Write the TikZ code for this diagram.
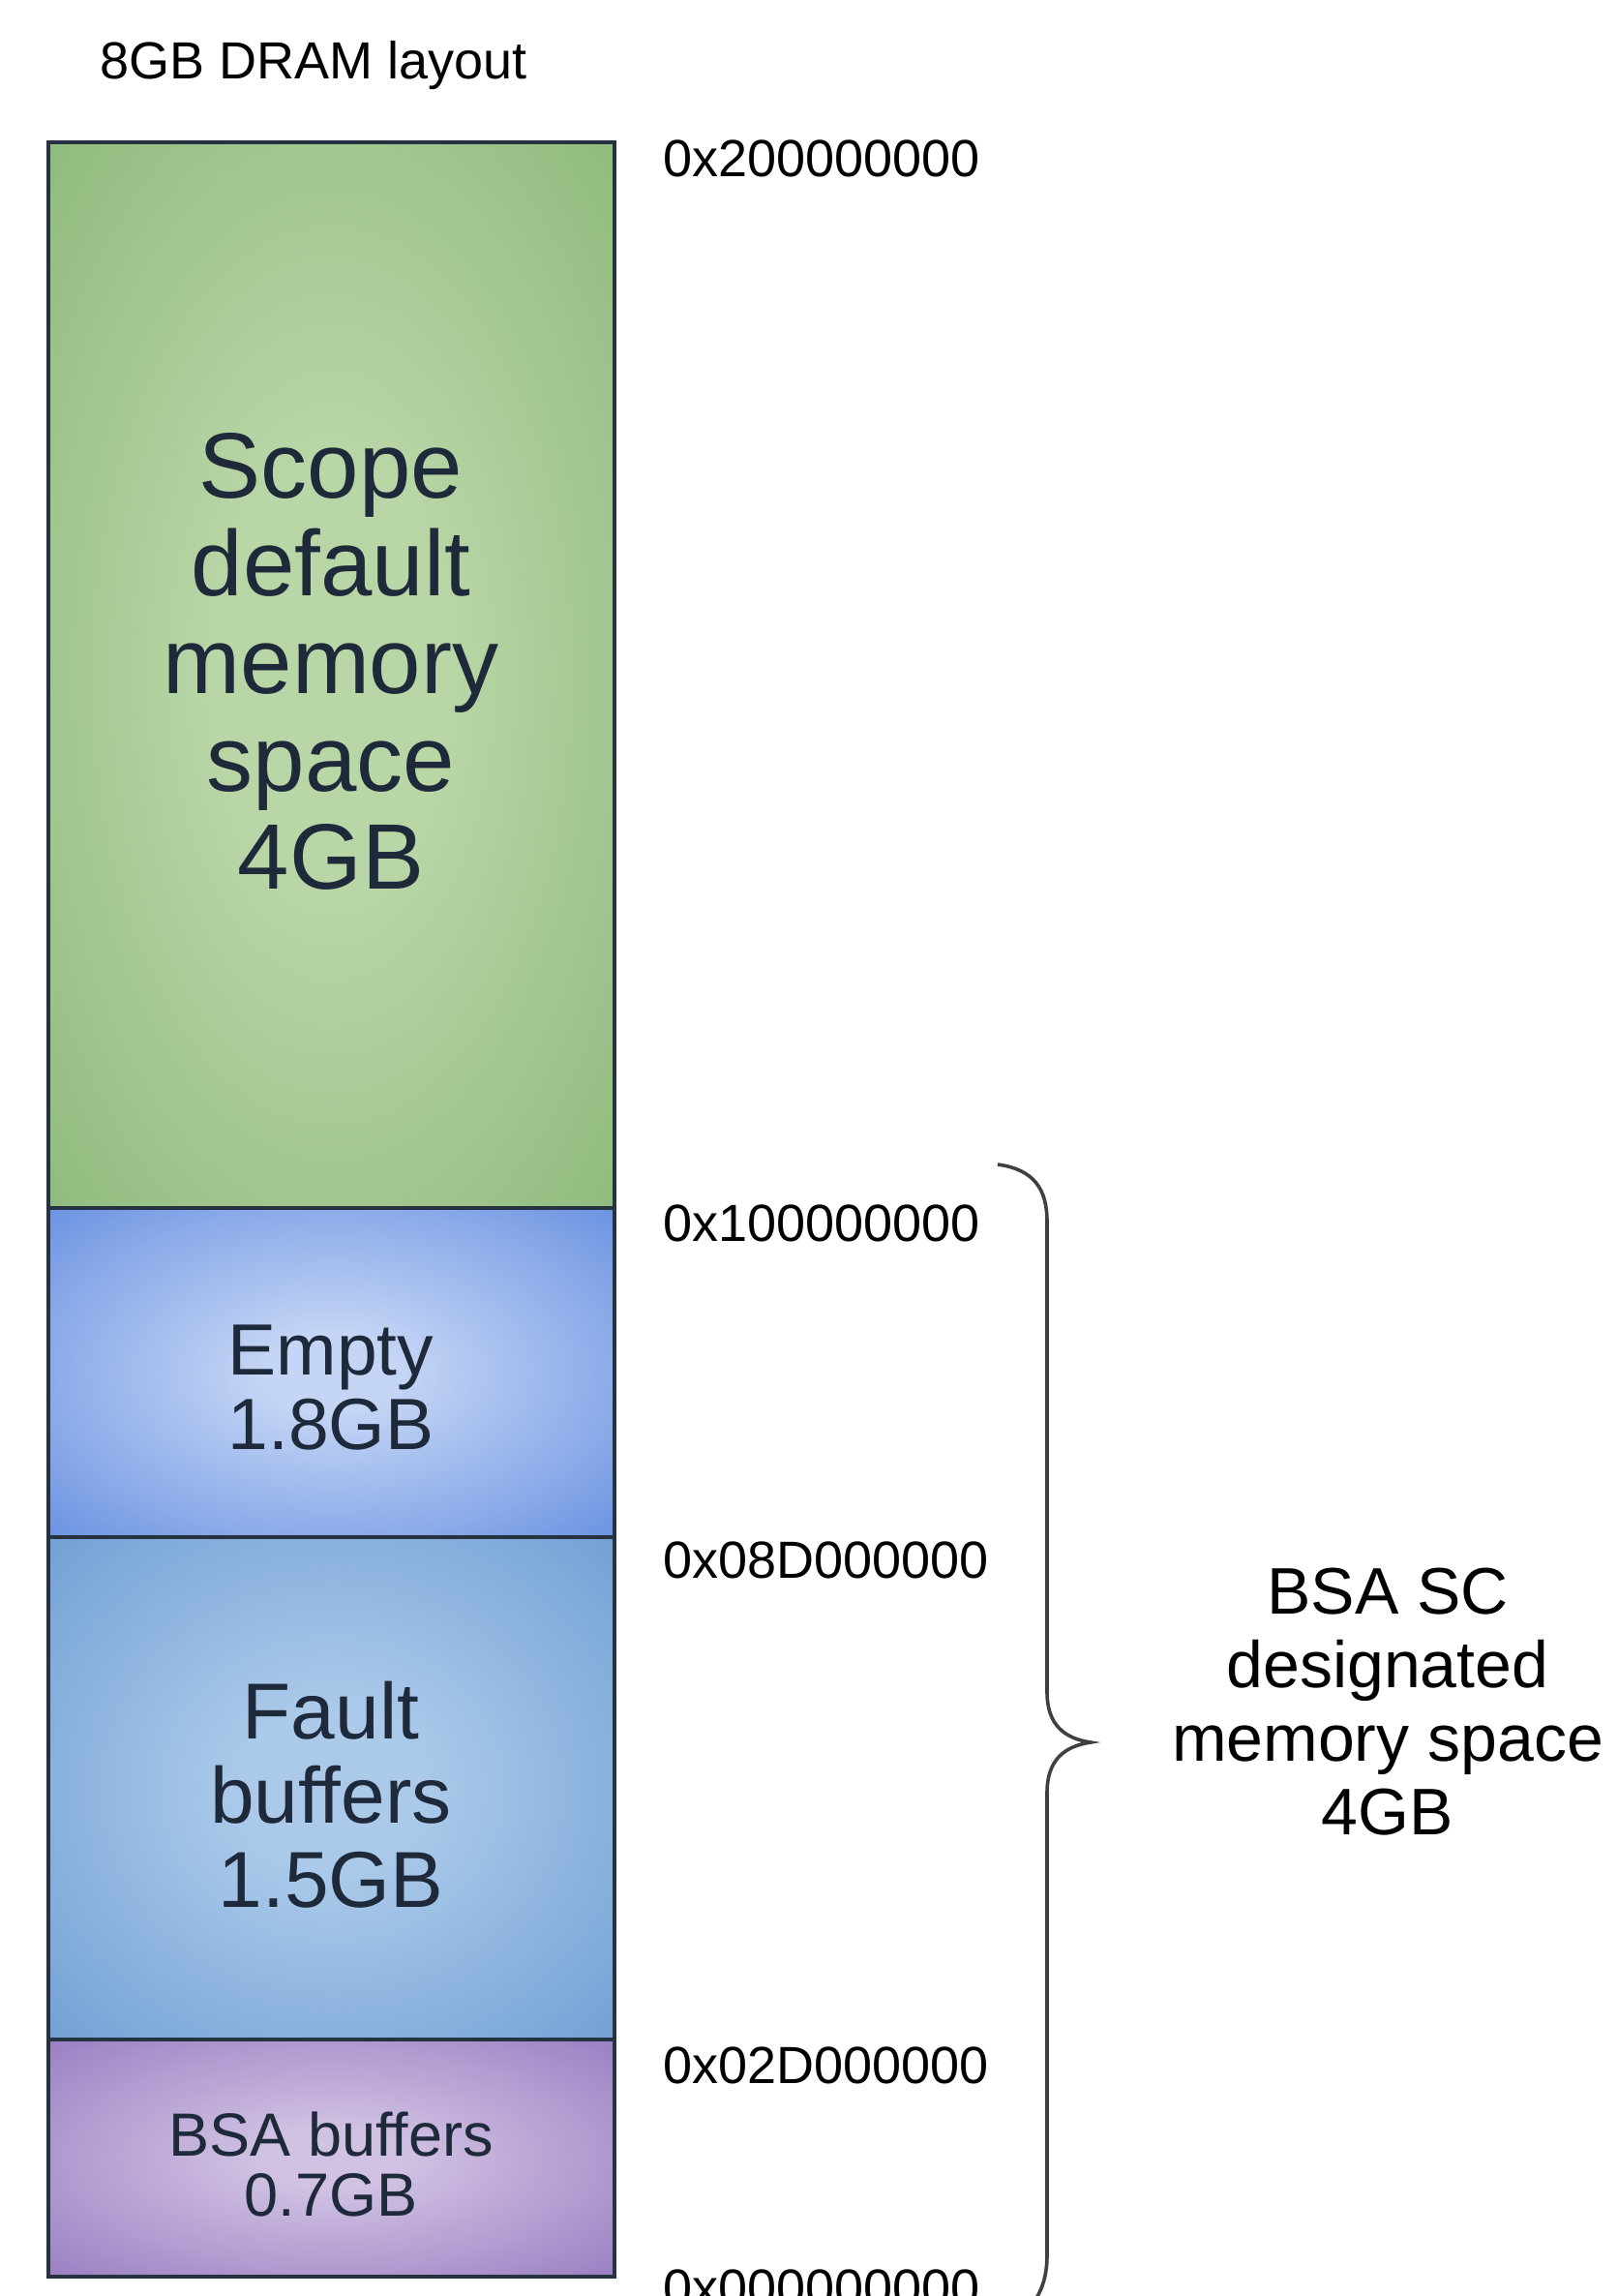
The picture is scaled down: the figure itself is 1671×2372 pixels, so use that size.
\documentclass[tikz,border=0pt]{standalone}
\usepackage{fontspec}
\setmainfont{Liberation Sans}

\definecolor{boxline}{HTML}{26323F}
\definecolor{boxtext}{HTML}{1E293A}
\definecolor{greenin}{HTML}{B9D6A7}
\definecolor{greenout}{HTML}{86B473}
\definecolor{emptyin}{HTML}{C4D5F5}
\definecolor{emptyout}{HTML}{5E89DF}
\definecolor{faultin}{HTML}{ABCAEA}
\definecolor{faultout}{HTML}{6597D0}
\definecolor{bsain}{HTML}{D1C2E3}
\definecolor{bsaout}{HTML}{9275BE}

\pgfdeclareradialshading{greenfill}{\pgfpointorigin}{color(0bp)=(greenin); color(10bp)=(greenin); color(42bp)=(greenout); color(50bp)=(greenout)}
\pgfdeclareradialshading{emptyfill}{\pgfpointorigin}{color(0bp)=(emptyin); color(6bp)=(emptyin); color(40bp)=(emptyout); color(50bp)=(emptyout)}
\pgfdeclareradialshading{faultfill}{\pgfpointorigin}{color(0bp)=(faultin); color(8bp)=(faultin); color(42bp)=(faultout); color(50bp)=(faultout)}
\pgfdeclareradialshading{bsafill}{\pgfpointorigin}{color(0bp)=(bsain); color(6bp)=(bsain); color(40bp)=(bsaout); color(50bp)=(bsaout)}

\begin{document}
\begin{tikzpicture}[x=0.5pt,y=-0.5pt,
  addr/.style={anchor=west,font=\fontsize{27}{30}\selectfont},
  boxlabel/.style={align=center,text=boxtext},
  divider/.style={boxline,line width=2.2pt}]
  \useasboundingbox (0,0) rectangle (1671,2372);
  \fill[white] (0,0) rectangle (1671,2372);
  \node[anchor=west,font=\fontsize{27}{30}\selectfont] (title) at (96,68) {8GB DRAM layout};
  % memory regions
  \shade[shading=greenfill] (50,147) rectangle (635,1248);
  \shade[shading=emptyfill] (50,1248) rectangle (635,1588);
  \shade[shading=faultfill] (50,1588) rectangle (635,2107);
  \shade[shading=bsafill] (50,2107) rectangle (635,2352);
  \draw[divider] (50,147) rectangle (635,2352);
  \foreach \y in {1248,1588,2107}
    \draw[divider] (50,\y) -- (635,\y);
  \node[boxlabel,font=\fontsize{48}{50.5}\selectfont] (scope) at (342,683) {Scope\\default\\memory\\space\\4GB};
  \node[boxlabel,font=\fontsize{37.5}{38.5}\selectfont] (empty) at (342,1434) {Empty\\1.8GB};
  \node[boxlabel,font=\fontsize{41}{43.5}\selectfont] (fault) at (342,1854) {Fault\\buffers\\1.5GB};
  \node[boxlabel,font=\fontsize{31.5}{31}\selectfont] (bsa) at (342,2236) {BSA buffers\\0.7GB};
  % addresses
  \node[addr] (a200) at (678,164) {0x200000000};
  \node[addr] (a100) at (678,1264) {0x100000000};
  \node[addr] (a08d) at (678,1612) {0x08D000000};
  \node[addr] (a02d) at (678,2134) {0x02D000000};
  \node[addr] (a000) at (678,2364) {0x000000000};
  % brace
  \coordinate (tip) at (1127,1800);
  \draw[black!75,line width=1.8pt] (1031,1203) .. controls (1068,1208) and (1082,1228) .. (1082,1262)
    -- (1082,1748) .. controls (1082,1782) and (1100,1796) .. (tip)
    .. controls (1100,1804) and (1082,1818) .. (1082,1852)
    -- (1082,2330) .. controls (1082,2356) and (1074,2376) .. (1056,2392);
  \node[align=center,font=\fontsize{34}{38}\selectfont] (bsasc) at (1434,1758) {BSA SC\\designated\\memory space\\4GB};
\end{tikzpicture}
\end{document}
